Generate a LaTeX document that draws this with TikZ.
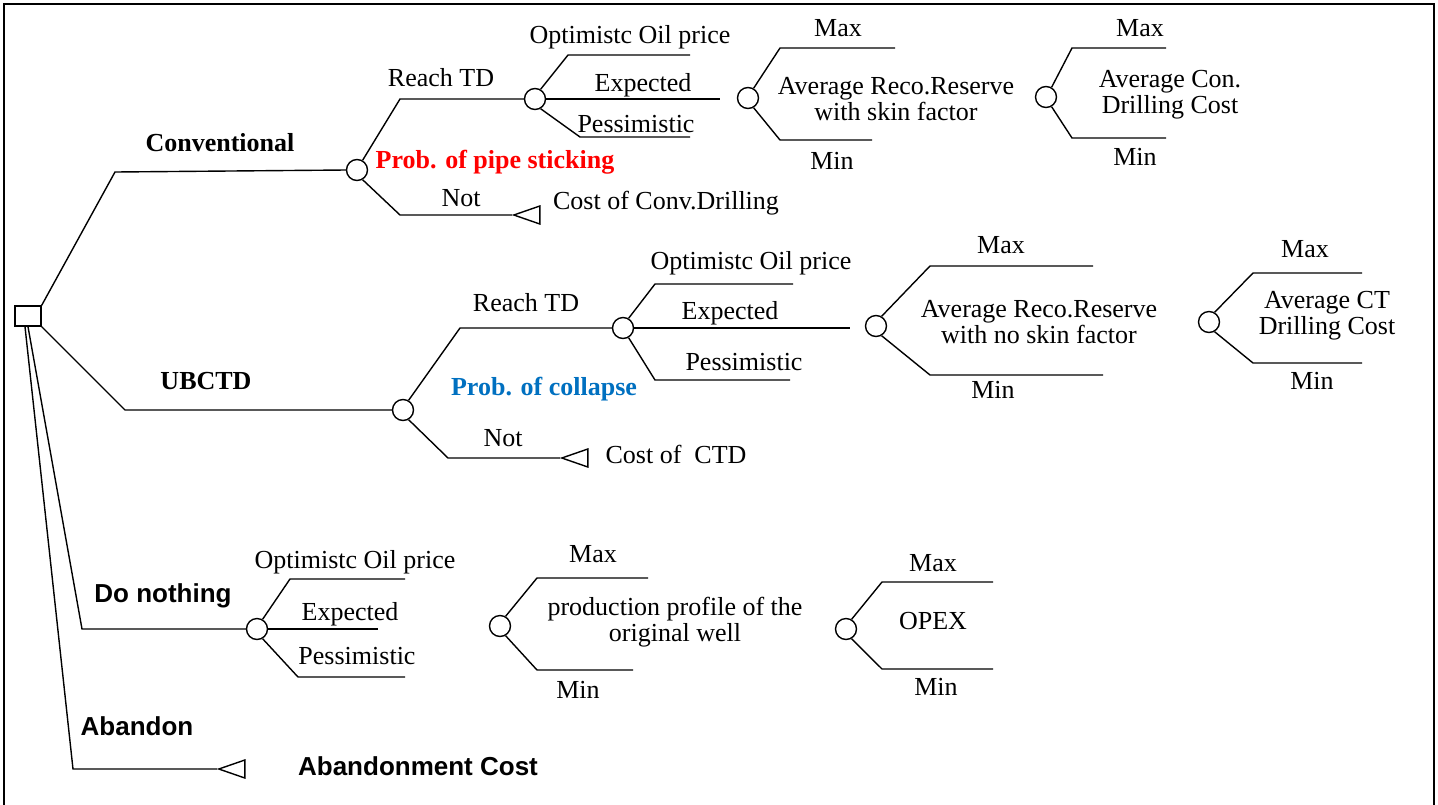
\documentclass[tikz,border=0pt]{standalone}
\usepackage{fontspec}
\setmainfont{Liberation Serif}
\newfontfamily\arialfont{Liberation Sans}
\usepackage{xcolor}
\usetikzlibrary{shapes.geometric}
\definecolor{probblue}{RGB}{0,112,192}

\begin{document}
\begin{tikzpicture}[x=1pt,y=-1pt,
    line width=1.4pt,
    every node/.style={font=\fontsize{26}{26}\selectfont, inner sep=0pt},
    lbl/.style={text height=17pt, text depth=0pt},
    boldlbl/.style={lbl, font=\fontsize{26}{26}\selectfont\bfseries},
    sanslbl/.style={lbl, font=\fontsize{26}{26}\selectfont\arialfont\bfseries},
    txt/.style={align=center},
    decision/.style={draw, rectangle, minimum width=26pt, minimum height=20pt},
    chance/.style={draw, circle, minimum size=21pt},
    endpt/.style={draw, isosceles triangle, isosceles triangle stretches,
        shape border rotate=180, minimum width=18pt, minimum height=26pt,
        anchor=apex}]
    \useasboundingbox (0,0) rectangle (1438,804);
    \draw[line width=2pt] (4,812) -- (4,4) -- (1434,4) -- (1434,812);

    % decision and chance nodes
    \node[decision] (dec) at (28,316) {};
    \node[chance] (c1) at (357,170) {};
    \node[chance] (c2) at (535,99) {};
    \node[chance] (c3) at (748,98) {};
    \node[chance] (c4) at (1046,97) {};
    \node[chance] (u1) at (403,410) {};
    \node[chance] (u2) at (623,328) {};
    \node[chance] (u3) at (876,326) {};
    \node[chance] (u4) at (1209,322) {};
    \node[chance] (d1) at (257,629) {};
    \node[chance] (d2) at (500,626) {};
    \node[chance] (d3) at (846,629) {};
    \node[endpt] (t1) at (512,215) {};
    \node[endpt] (t2) at (560,458) {};
    \node[endpt] (t3) at (217,769) {};

    % Conventional
    \draw (dec.north east) -- (115,172) -- (c1.west);
    \draw (c1.60) -- (400,99) -- (c2.west);
    \draw (c1.-60) -- (400,215) -- (t1.apex);
    \draw (c2.60) -- (568,55) -- (690,55) coordinate (c2-hi);
    \draw (c2.east) -- (720,99) coordinate (c2-mid);
    \draw (c2.-60) -- (580,137) -- (690,137) coordinate (c2-lo);
    \draw (c3.60) -- (780,48) -- (895,48) coordinate (c3-hi);
    \draw (c3.-60) -- (780,140) -- (872,140) coordinate (c3-lo);
    \draw (c4.60) -- (1072,48) -- (1166,48) coordinate (c4-hi);
    \draw (c4.-60) -- (1072,138) -- (1166,138) coordinate (c4-lo);
    \node[boldlbl] (l-conv) at (220,143) {Conventional};
    \node[lbl] (l-reach1) at (441,78) {Reach TD};
    \node[boldlbl, red] (l-stick) at (495,160) {Prob. of pipe sticking};
    \node[lbl] (l-not1) at (461,198) {Not};
    \node[lbl] (l-cost1) at (666,201) {Cost of Conv.Drilling};
    \node[lbl] (l-opt1) at (630,35) {Optimistc Oil price};
    \node[lbl] (l-exp1) at (643,83) {Expected};
    \node[lbl] (l-pes1) at (636,124) {Pessimistic};
    \node[lbl] (l-max1) at (838,28) {Max};
    \node[lbl] (l-min1) at (832,161) {Min};
    \node[txt] (l-res1) at (896,99) {Average Reco.Reserve\\with skin factor};
    \node[lbl] (l-max2) at (1140,28) {Max};
    \node[lbl] (l-min2) at (1135,157) {Min};
    \node[txt] (l-dc1) at (1170,95) {Average Con.\\Drilling Cost};

    % UBCTD
    \draw (dec.south east) -- (125,410) -- (u1.west);
    \draw (u1.60) -- (460,328) -- (u2.west);
    \draw (u1.-60) -- (448,458) -- (t2.apex);
    \draw (u2.60) -- (655,284) -- (793,284) coordinate (u2-hi);
    \draw (u2.east) -- (850,328) coordinate (u2-mid);
    \draw (u2.-60) -- (655,380) -- (790,380) coordinate (u2-lo);
    \draw (u3.60) -- (930,266) -- (1093,266) coordinate (u3-hi);
    \draw (u3.-60) -- (930,375) -- (1103,375) coordinate (u3-lo);
    \draw (u4.60) -- (1253,273) -- (1362,273) coordinate (u4-hi);
    \draw (u4.-60) -- (1253,363) -- (1362,363) coordinate (u4-lo);
    \node[boldlbl] (l-ubctd) at (206,381) {UBCTD};
    \node[lbl] (l-reach2) at (526,303) {Reach TD};
    \node[boldlbl, probblue] (l-coll) at (544,387) {Prob. of collapse};
    \node[lbl] (l-not2) at (503,438) {Not};
    \node[lbl] (l-cost2) at (676,455) {Cost of\ \ CTD};
    \node[lbl] (l-opt2) at (751,261) {Optimistc Oil price};
    \node[lbl] (l-exp2) at (730,311) {Expected};
    \node[lbl] (l-pes2) at (744,362) {Pessimistic};
    \node[lbl] (l-max3) at (1001,245) {Max};
    \node[lbl] (l-min3) at (993,390) {Min};
    \node[txt] (l-res2) at (1039,322) {Average Reco.Reserve\\with no skin factor};
    \node[lbl] (l-max4) at (1305,249) {Max};
    \node[lbl] (l-min4) at (1312,381) {Min};
    \node[txt] (l-dc2) at (1327,316) {Average CT\\Drilling Cost};

    % Do nothing
    \draw (dec.south) -- (82,629) -- (d1.west);
    \draw (d1.60) -- (290,579) -- (405,579) coordinate (d1-hi);
    \draw (d1.east) -- (378,629) coordinate (d1-mid);
    \draw (d1.-60) -- (298,677) -- (405,677) coordinate (d1-lo);
    \draw (d2.60) -- (537,578) -- (648,578) coordinate (d2-hi);
    \draw (d2.-60) -- (537,670) -- (633,670) coordinate (d2-lo);
    \draw (d3.60) -- (882,582) -- (993,582) coordinate (d3-hi);
    \draw (d3.-60) -- (882,669) -- (993,669) coordinate (d3-lo);
    \node[sanslbl] (l-none) at (163,594) {Do nothing};
    \node[lbl] (l-opt3) at (355,560) {Optimistc Oil price};
    \node[lbl] (l-exp3) at (350,612) {Expected};
    \node[lbl] (l-pes3) at (357,656) {Pessimistic};
    \node[lbl] (l-max5) at (593,554) {Max};
    \node[lbl] (l-min5) at (578,690) {Min};
    \node[txt] (l-prod) at (675,622) {production profile of the\\original well};
    \node[lbl] (l-max6) at (933,563) {Max};
    \node[lbl] (l-min6) at (936,687) {Min};
    \node[lbl] (l-opex) at (933,621) {OPEX};

    % Abandon
    \draw ([xshift=-3pt]dec.south) -- (73,769) -- (t3.apex);
    \node[sanslbl] (l-aband) at (137,727) {Abandon};
    \node[sanslbl] (l-abcost) at (418,767) {Abandonment Cost};

\end{tikzpicture}
\end{document}
